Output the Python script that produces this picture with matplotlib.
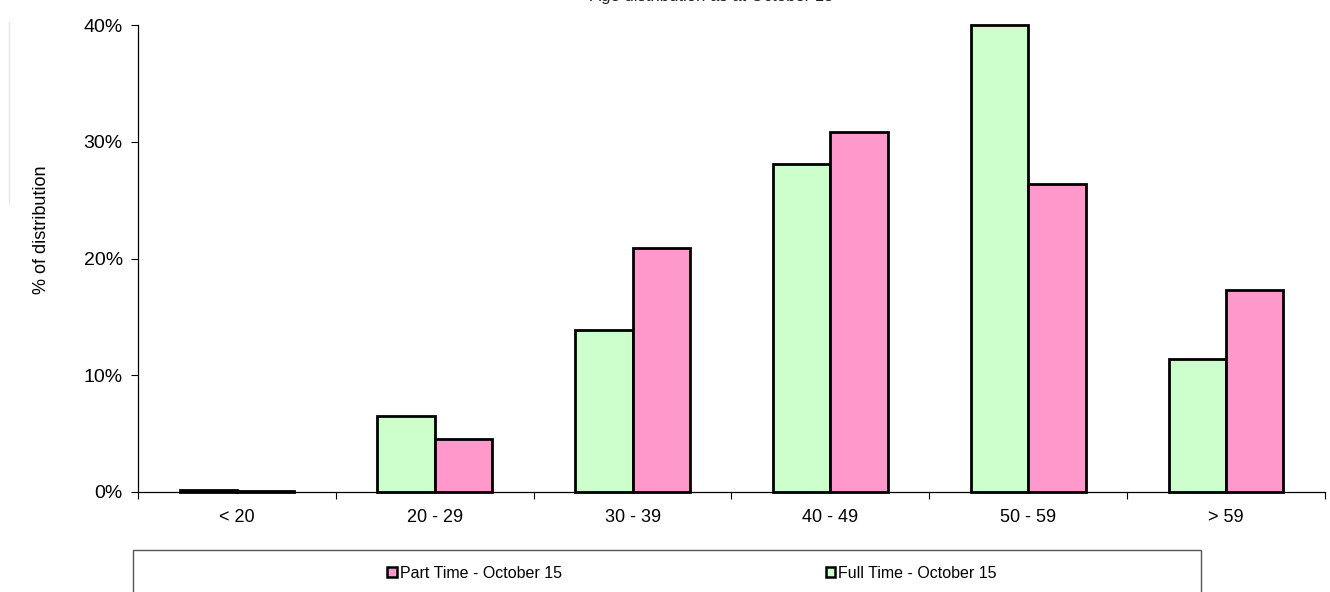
import matplotlib.pyplot as plt
import numpy as np
from matplotlib.patches import Rectangle, Patch
from matplotlib.lines import Line2D

plt.rcParams['font.family'] = ['Liberation Sans', 'DejaVu Sans']

age_groups = ['< 20', '20 - 29', '30 - 39', '40 - 49', '50 - 59', '> 59']
full_time = [0.15, 6.5, 13.9, 28.1, 40.0, 11.4]
part_time = [0.05, 4.5, 20.9, 30.8, 26.4, 17.3]

green = '#ccffcc'
pink = '#ff99cc'

fig = plt.figure(figsize=(13.3, 5.92), dpi=100)
ax = fig.add_axes([138 / 1330, 1 - 492 / 592, (1325 - 138) / 1330, (492 - 25) / 592])

x = np.arange(len(age_groups))
w = 0.29
ax.bar(x - w / 2, full_time, w, color=green, edgecolor='black', linewidth=2, zorder=3, clip_on=False)
ax.bar(x + w / 2, part_time, w, color=pink, edgecolor='black', linewidth=2, zorder=3, clip_on=False)

ax.set_xlim(-0.5, len(age_groups) - 0.5)
ax.set_ylim(0, 40)
ax.set_yticks([0, 10, 20, 30, 40])
ax.set_yticklabels(['0%', '10%', '20%', '30%', '40%'], fontsize=14)
ax.set_ylabel('% of distribution', fontsize=13)
ax.yaxis.set_label_coords(-0.074, 0.561)

# category labels centred, ticks between categories
ax.set_xticks(x)
ax.set_xticklabels(age_groups, fontsize=13)
ax.tick_params(axis='x', length=0, pad=12)
ax.set_xticks(np.arange(len(age_groups) + 1) - 0.5, minor=True)
ax.tick_params(axis='x', which='minor', length=5, width=0.8, direction='out')
ax.tick_params(axis='y', length=5, width=0.8, direction='out', pad=6)

for s in ['top', 'right']:
    ax.spines[s].set_visible(False)
ax.spines['left'].set_linewidth(0.9)
ax.spines['bottom'].set_linewidth(0.9)

# title sits mostly above the top edge, only its bottom shows
fig.text(712 / 1330, 1 - 1.5 / 592, 'Age distribution as at October 15', ha='center', va='baseline',
         fontsize=12, color='#222222')

# faint stray line at the left edge
fig.add_artist(Line2D([9 / 1330, 9 / 1330], [1 - 22 / 592, 1 - 203 / 592], color='#e6e6e6', linewidth=1))

# legend box
fig.add_artist(Rectangle((133 / 1330, -0.1), (1201 - 133) / 1330, 0.1 + 1 - 550 / 592,
                         facecolor='white', edgecolor='#555555', linewidth=1, transform=fig.transFigure))
handles = [Patch(facecolor=pink, edgecolor='black', linewidth=1.8),
           Patch(facecolor=green, edgecolor='black', linewidth=1.8)]
fig.legend(handles, ['Part Time - October 15', 'Full Time - October 15'], ncol=2, frameon=False,
           loc='center', bbox_to_anchor=(692 / 1330, 1 - 573 / 592), fontsize=11.5,
           handlelength=0.6, handleheight=0.6, handletextpad=0.2, columnspacing=16.5)

fig.savefig('out.png', dpi=100)
